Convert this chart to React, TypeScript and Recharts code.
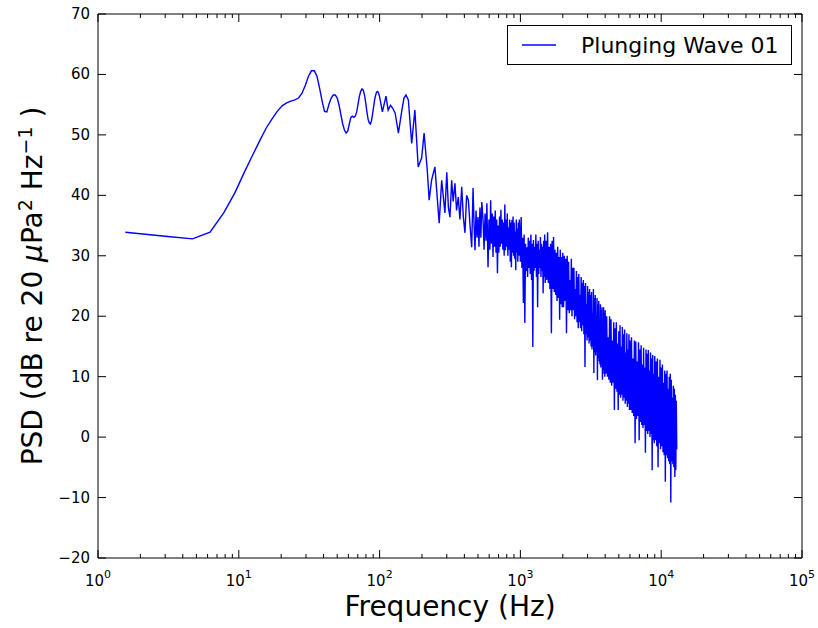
import React from 'react';
import { LineChart, Line, XAxis, YAxis, Legend, ReferenceArea, Label } from 'recharts';

// PSD spectrum, frequencies in Hz, levels in dB re 20 uPa^2/Hz
const lowFreq = [
  1.5625, 3.125, 4.6875, 6.25, 7.8125, 9.375, 10.9375, 12.5, 14.0625, 15.625, 17.1875, 18.75, 20.3125,
  21.875, 23.4375, 25, 26.5625, 28.125, 29.6875, 31.25, 32.8125, 34.375, 35.9375, 37.5, 39.0625, 40.625,
  42.1875, 43.75, 45.3125, 46.875, 48.4375, 50, 51.5625, 53.125, 54.6875, 56.25, 57.8125, 59.375, 60.9375,
  62.5, 64.0625, 65.625, 67.1875, 68.75, 70.3125, 71.875, 73.4375, 75, 76.5625, 78.125, 79.6875, 81.25,
  82.8125, 84.375, 85.9375, 87.5, 89.0625, 90.625, 92.1875, 93.75, 95.3125, 96.875, 98.4375, 100,
];
const lowPsd = [
  33.9, 33.2, 32.8, 33.9, 37.1, 40.4, 43.8, 46.6, 49.0, 51.1, 52.6, 53.9, 54.8,
  55.3, 55.6, 55.8, 56.1, 56.9, 58.2, 59.7, 60.6, 60.6, 59.7, 57.7, 55.6, 53.9,
  53.8, 55.1, 56.1, 56.6, 56.6, 56.1, 54.9, 53.3, 51.8, 50.8, 50.3, 50.6, 51.8,
  52.9, 53.1, 52.9, 53.1, 53.8, 55.1, 56.4, 57.2, 57.6, 57.4, 56.6, 55.3, 53.8,
  52.6, 52.0, 51.8, 52.3, 53.4, 54.6, 55.8, 56.6, 57.1, 57.2, 56.9, 56.3,
];

const midFreq = [104.7, 111, 115, 119.5, 124, 129, 136, 144, 149, 154, 160, 169, 178, 188, 199, 207, 218, 225, 234, 247, 265, 276, 291];
const midPsd = [53.8, 56.4, 54.1, 54.9, 54.4, 53.6, 50.3, 54.1, 56.1, 56.6, 55.8, 48.6, 54.1, 44.7, 46.2, 50.3, 44.2, 39.2, 42.5, 44.7, 35.4, 42.5, 37.1];

const bandFreq = [
  300, 308, 316, 325, 333, 343, 352, 362, 372, 383, 393, 404, 415, 427, 439, 451, 461, 469, 476, 484,
  492, 500, 508, 516, 524, 532, 543, 552, 561, 570, 578, 589, 598,
];
const bandPsd = [
  43.8, 38.0, 36.4, 42.5, 39.0, 42.0, 37.5, 39.7, 36.0, 41.4, 36.5, 33.8, 40.0, 39.2, 35.0, 31.4, 41.2, 35.0, 30.9, 37.5,
  33.0, 36.4, 31.5, 38.0, 33.0, 38.9, 35.9, 31.0, 37.0, 32.5, 38.7, 28.1, 36.0,
];

const denseFreq = [
  607, 615, 623, 631, 639, 647, 655, 663, 671, 679, 687, 695, 703, 711, 719, 727, 735, 743, 751, 759,
  767, 775, 783, 791, 799, 807, 815, 823, 831, 839, 847, 855, 863, 871, 879, 887, 895, 903, 911, 919,
  927, 935, 943, 951, 959, 967, 975, 983,
];
const densePsd = [
  31.0, 39.2, 32.0, 37.0, 29.8, 36.5, 31.5, 37.5, 30.5, 36.0, 27.1, 35.0, 30.5, 36.5, 31.5, 37.6, 32.0, 36.0, 31.0, 35.5,
  30.0, 38.5, 30.9, 36.0, 31.5, 37.0, 30.0, 34.7, 31.0, 36.0, 29.0, 35.5, 28.1, 35.9, 30.5, 36.5, 30.0, 35.5, 29.5, 34.0,
  27.6, 36.0, 30.5, 34.5, 29.0, 35.5, 30.0, 36.0,
];

const kiloFreq = [
  1000, 1012.5, 1025, 1037.5, 1050, 1062.5, 1075, 1087.5, 1100, 1112.5, 1125, 1137.5, 1150, 1162.5, 1175, 1187.5,
  1200, 1212.5, 1225, 1237.5, 1250, 1262.5, 1275, 1287.5, 1300, 1312.5, 1325, 1337.5, 1350, 1362.5, 1375, 1387.5,
  1400, 1412.5, 1425, 1437.5, 1450, 1462.5, 1475, 1487.5, 1500,
  1520, 1540, 1560, 1580, 1600, 1620, 1640, 1660, 1680, 1700, 1720, 1740, 1760, 1780, 1800, 1820, 1840, 1860,
  1880, 1900, 1920, 1940, 1960, 1980, 2000,
];
const kiloPsd = [
  29.0, 36.4, 28.0, 33.0, 22.2, 33.5, 18.9, 32.0, 27.5, 31.4, 26.5, 33.0, 28.0, 32.5, 27.0, 33.5,
  26.0, 32.0, 14.9, 32.6, 27.5, 31.5, 28.0, 33.5, 26.5, 32.0, 21.5, 32.5, 27.0, 31.0, 28.0, 33.1,
  26.5, 32.0, 27.5, 31.5, 23.8, 32.5, 26.5, 33.5, 25.5,
  32.5, 26.0, 33.9, 25.5, 31.5, 24.5, 32.0, 17.2, 32.5, 24.5, 33.1, 24.0, 31.0, 23.5, 30.5, 22.5, 31.5, 23.0,
  29.8, 19.4, 31.0, 22.0, 29.8, 21.5, 30.5,
];

const upperFreq = [
  2025, 2050, 2075, 2100, 2125, 2150, 2175, 2200, 2225, 2250, 2275, 2300, 2325, 2350, 2375, 2400, 2425, 2450, 2475, 2500,
  2525, 2550, 2575, 2600, 2625, 2650, 2675, 2700, 2725, 2750, 2775, 2800, 2825, 2850, 2875, 2900, 2925, 2950, 2975, 3000,
  3025, 3050, 3075, 3100, 3125, 3150, 3175, 3200, 3225, 3250, 3275, 3300, 3325, 3350, 3375, 3400, 3425, 3450, 3475, 3500,
  3525, 3550, 3575, 3600, 3625, 3650, 3675, 3700, 3725, 3750, 3775, 3800, 3825, 3850, 3875, 3900, 3925, 3950, 3975,
];
const upperPsd = [
  21.5, 30.0, 22.5, 29.5, 17.2, 30.0, 21.0, 29.0, 20.5, 26.0, 21.0, 29.5, 20.0, 28.0, 21.0, 28.0, 19.5, 24.5, 20.0, 27.5,
  19.0, 26.5, 18.0, 27.0, 19.0, 23.5, 18.0, 26.5, 17.5, 25.5, 18.5, 26.0, 17.0, 25.0, 11.6, 25.5, 17.0, 22.0, 16.0, 25.0,
  16.5, 24.0, 15.5, 24.5, 16.0, 23.5, 15.0, 24.0, 14.5, 20.5, 15.0, 24.5, 10.6, 23.0, 14.0, 23.5, 13.5, 20.0, 14.0, 23.0,
  9.4, 22.0, 13.0, 22.5, 12.5, 19.0, 12.0, 22.0, 11.5, 21.0, 12.0, 21.5, 9.5, 18.0, 11.0, 21.5, 10.5, 20.5, 10.0,
];

const topFreq = [
  4000, 4050, 4100, 4150, 4200, 4250, 4300, 4350, 4400, 4450, 4500, 4550, 4600, 4650, 4700, 4750, 4800, 4850, 4900, 4950,
  5000, 5050, 5100, 5150, 5200, 5250, 5300, 5350, 5400, 5450, 5500, 5550, 5600, 5650, 5700, 5750, 5800, 5850, 5900, 5950,
  6000,
];
const topPsd = [
  21.0, 10.5, 20.0, 10.0, 16.5, 9.5, 20.0, 9.0, 19.5, 8.5, 16.0, 9.0, 19.0, 4.5, 18.0, 8.0, 19.0, 7.5, 15.5, 4.5,
  17.5, 7.0, 18.5, 6.5, 15.0, 7.0, 18.2, 6.0, 17.0, 6.5, 17.8, 5.5, 14.0, 6.0, 17.2, 5.0, 14.5, 5.5, 17.0, 4.5,
  16.0,
];

const crestFreq = [
  6075, 6150, 6225, 6300, 6375, 6450, 6525, 6600, 6675, 6750, 6825, 6900, 6975, 7050, 7125, 7200, 7275, 7350, 7425, 7500,
  7575, 7650, 7725, 7800, 7875, 7950, 8025, 8100, 8175, 8250, 8325, 8400, 8475, 8550, 8625, 8700, 8775, 8850, 8925, 9000,
];
const crestPsd = [
  4.5, 16.5, 4.0, 13.0, 3.5, 16.0, -1.0, 15.8, 3.0, 12.5, 3.5, 15.7, -0.5, 14.5, 2.5, 15.2, 2.0, 12.0, 1.5, 14.8,
  2.0, 11.5, -2.6, 14.5, 1.0, 13.8, 0.5, 14.4, 1.0, 11.0, 0.0, 14.0, 0.5, 13.0, -5.5, 13.6, -0.5, 10.5, -1.0, 13.4,
];

const edgeFreq = [
  9100, 9200, 9300, 9400, 9500, 9600, 9700, 9800, 9900, 10000, 10100, 10200, 10300, 10400, 10500, 10600, 10700, 10800,
  10900, 11000, 11100, 11200, 11300, 11400, 11500, 11600, 11700, 11800, 11900, 12000, 12100, 12200, 12300, 12400,
  12500, 12600, 12700, 12800, 12900,
];
const edgePsd = [
  -0.5, 12.5, -1.5, 13.0, -5.0, 10.0, -1.0, 12.8, -2.0, 11.5, -1.5, 12.0, -2.5, 9.0, -3.0, 11.0, -7.4, 10.5,
  -3.0, 11.0, -3.5, 8.0, -4.0, 10.0, -4.5, 10.5, -10.8, 9.5, -4.0, 6.5, -4.5, 8.5, -5.0, 8.0,
  -6.6, 7.0, -5.5, 6.0, -2.0,
];

const xMajorTicks = [1, 10, 100, 1000, 10000, 100000];
const xMinorTicks = [
  2, 3, 4, 5, 6, 7, 8, 9, 20, 30, 40, 50, 60, 70, 80, 90, 200, 300, 400, 500, 600, 700, 800, 900,
  2000, 3000, 4000, 5000, 6000, 7000, 8000, 9000, 20000, 30000, 40000, 50000, 60000, 70000, 80000, 90000,
];
const yTicks = [-20, -10, 0, 10, 20, 30, 40, 50, 60, 70];
const seriesName = 'Plunging Wave 01';

const W = 818;
const H = 628;
const Y_AXIS_W = 98;
const X_AXIS_H = 70;
const MARGIN = { top: 14, right: 16, bottom: 0, left: 0 };
const PLOT_W = W - MARGIN.left - MARGIN.right - Y_AXIS_W;
const PLOT_H = H - MARGIN.top - MARGIN.bottom - X_AXIS_H;
const FONT = "'DejaVu Sans', sans-serif";

const freqs = [
  ...lowFreq, ...midFreq, ...bandFreq, ...denseFreq, ...kiloFreq,
  ...upperFreq, ...topFreq, ...crestFreq, ...edgeFreq,
];
const psds = [
  ...lowPsd, ...midPsd, ...bandPsd, ...densePsd, ...kiloPsd,
  ...upperPsd, ...topPsd, ...crestPsd, ...edgePsd,
];
const data = freqs.map((f, i) => ({ f, psd: psds[i] }));

const XTick = (props: any) => {
  const { x, y, payload } = props;
  const v = payload.value;
  const major = xMajorTicks.includes(v);
  const len = major ? 8 : 4;
  return (
    <g>
      <line x1={x} x2={x} y1={y} y2={y - len} stroke="#000" />
      <line x1={x} x2={x} y1={y - PLOT_H} y2={y - PLOT_H + len} stroke="#000" />
      {major && (
        <text x={x} y={y + 28} textAnchor="middle" fontFamily={FONT} fontSize={15} fill="#000">
          10
          <tspan dy={-8} fontSize={11}>
            {Math.round(Math.log10(v))}
          </tspan>
        </text>
      )}
    </g>
  );
};

const YTick = (props: any) => {
  const { x, y, payload } = props;
  const v = payload.value;
  return (
    <g>
      <line x1={x} x2={x + 8} y1={y} y2={y} stroke="#000" />
      <line x1={x + PLOT_W} x2={x + PLOT_W - 8} y1={y} y2={y} stroke="#000" />
      <text x={x - 8} y={y + 5} textAnchor="end" fontFamily={FONT} fontSize={15} fill="#000">
        {v < 0 ? `\u2212${Math.abs(v)}` : v}
      </text>
    </g>
  );
};

const XLabel = (props: any) => {
  const vb = props.viewBox;
  return (
    <text x={vb.x + vb.width / 2} y={vb.y + 58} textAnchor="middle" fontFamily={FONT} fontSize={28} fill="#000">
      Frequency (Hz)
    </text>
  );
};

const YLabel = (props: any) => {
  const vb = props.viewBox;
  const cx = vb.x + 32;
  const cy = vb.y + vb.height / 2;
  return (
    <text
      x={cx}
      y={cy + 10}
      transform={`rotate(-90 ${cx} ${cy})`}
      textAnchor="middle"
      fontFamily={FONT}
      fontSize={28}
      fill="#000"
    >
      PSD (dB re 20 <tspan fontStyle="italic">μ</tspan>Pa
      <tspan dy={-10} fontSize={19}>2</tspan>
      <tspan dy={10}> Hz</tspan>
      <tspan dy={-10} fontSize={19}>−1</tspan>
      <tspan dy={10}> )</tspan>
    </text>
  );
};

const LegendBox = () => (
  <div
    style={{
      width: 285,
      height: 40,
      boxSizing: 'border-box',
      border: '1px solid #000',
      background: '#fff',
      display: 'flex',
      alignItems: 'center',
      fontFamily: FONT,
      fontSize: 22,
      color: '#000',
    }}
  >
    <svg width={73} height={20}>
      <line x1={14} x2={48} y1={10} y2={10} stroke="#0000ff" strokeWidth={1.4} />
    </svg>
    <span>{seriesName}</span>
  </div>
);

const App = () => {
  return (
    <div style={{ position: 'absolute', left: 0, top: 0, background: '#fff' }}>
      <LineChart width={W} height={H} data={data} margin={MARGIN}>
        <XAxis
          dataKey="f"
          type="number"
          scale="log"
          domain={[1, 100000]}
          allowDataOverflow
          ticks={[...xMajorTicks, ...xMinorTicks]}
          interval={0}
          tick={<XTick />}
          tickSize={0}
          tickMargin={0}
          axisLine={false}
          tickLine={false}
          height={X_AXIS_H}
        >
          <Label content={<XLabel />} />
        </XAxis>
        <YAxis
          type="number"
          domain={[-20, 70]}
          allowDataOverflow
          ticks={yTicks}
          interval={0}
          tick={<YTick />}
          tickSize={0}
          tickMargin={0}
          axisLine={false}
          tickLine={false}
          width={Y_AXIS_W}
        >
          <Label content={<YLabel />} />
        </YAxis>
        <ReferenceArea x1={1} x2={100000} y1={-20} y2={70} fill="none" stroke="#000" strokeWidth={1} />
        <Line
          type="linear"
          dataKey="psd"
          name={seriesName}
          stroke="#0000ff"
          strokeWidth={1.4}
          dot={false}
          isAnimationActive={false}
        />
        <Legend
          layout="vertical"
          align="center"
          verticalAlign="middle"
          content={<LegendBox />}
          wrapperStyle={{ top: 25, left: 507, width: 285, height: 40 }}
        />
      </LineChart>
    </div>
  );
};

export default App;
